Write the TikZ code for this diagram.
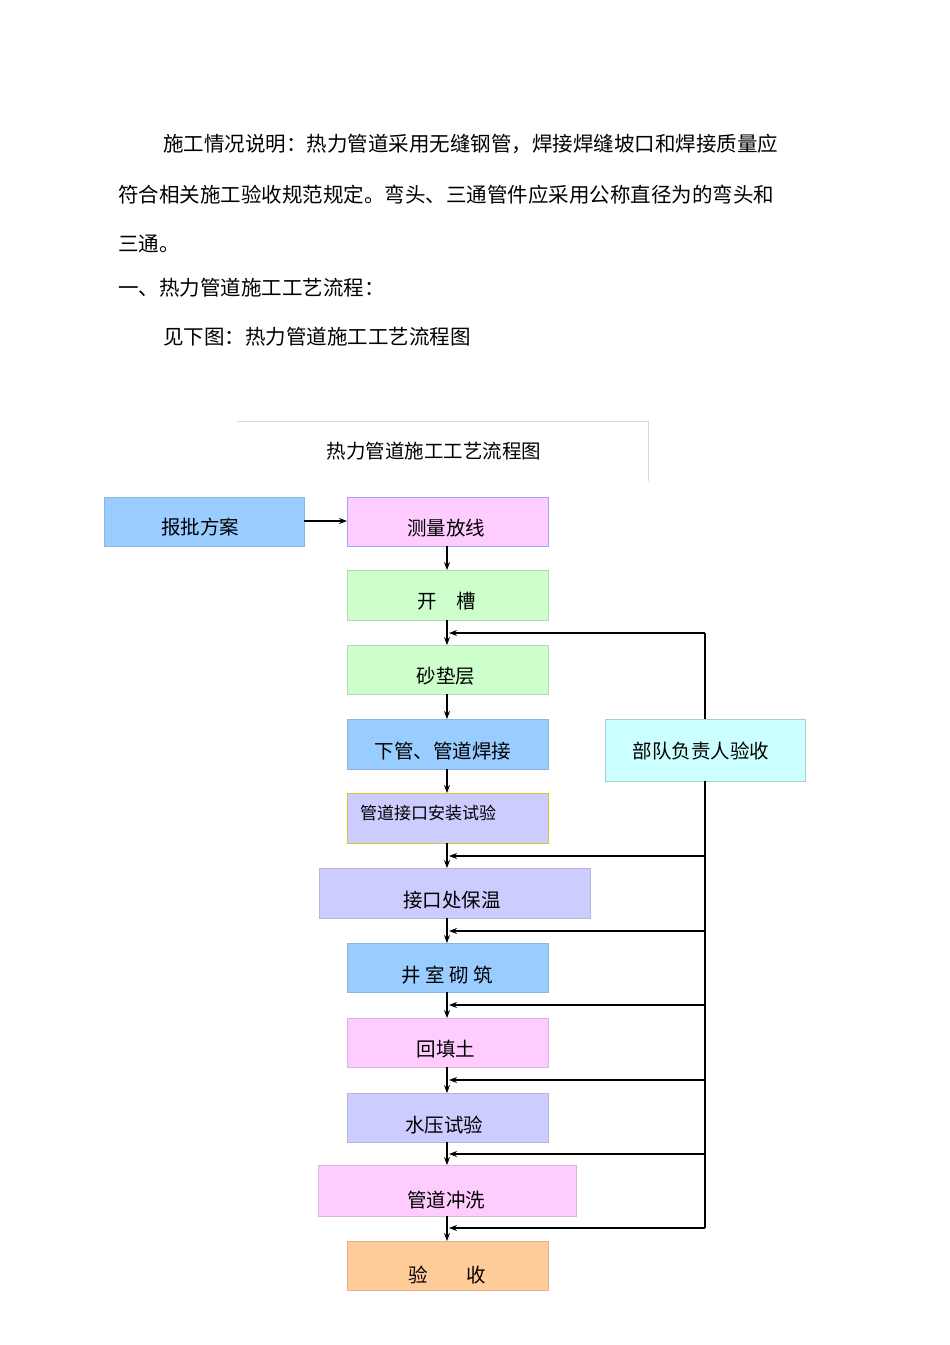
\documentclass[tikz,border=0pt]{standalone}
\usepackage{fontspec}
\setmainfont{Noto Sans CJK SC}
\usetikzlibrary{arrows.meta}
\definecolor{cblue}{HTML}{99CCFF}
\definecolor{cpink}{HTML}{FFCCFF}
\definecolor{cgreen}{HTML}{CCFFCC}
\definecolor{clav}{HTML}{CCCCFF}
\definecolor{corange}{HTML}{FFCC99}
\definecolor{ccyan}{HTML}{CCFFFF}
\begin{document}
\begin{tikzpicture}[x=1pt,y=-1pt,
  para/.style={anchor=base west,inner sep=0,font=\fontsize{20.5}{24}\selectfont},
  box/.style={draw=#1!70!gray,fill=#1,line width=0.6pt,inner sep=0},
  lbl/.style={font=\fontsize{19.5}{22}\selectfont,inner sep=0},
  arr/.style={-{Stealth[length=8pt,width=6pt]},line width=1.2pt},
  fb/.style={line width=1.2pt}]
\useasboundingbox (0,0) rectangle (950,1345);
\node[para] (p1) at (163,151) {施工情况说明：热力管道采用无缝钢管，焊接焊缝坡口和焊接质量应};
\node[para] (p2) at (118,202) {符合相关施工验收规范规定。弯头、三通管件应采用公称直径为的弯头和};
\node[para] (p3) at (118,251) {三通。};
\node[para] (p4) at (118,295) {一、热力管道施工工艺流程：};
\node[para] (p5) at (163,344) {见下图：热力管道施工工艺流程图};
% title box
\draw[gray!30] (237,421) -- (648,421) -- (648,481);
\node[lbl] (title) at (434,451) {热力管道施工工艺流程图};
% boxes
\newcommand{\bx}[6]{\filldraw[box=#5] (#1,#2) rectangle (#3,#4); \coordinate (#6) at ({(#1+#3)/2},#2);}
\filldraw[box=cblue] (104,497) rectangle (304,546); \node[lbl] (a) at (200,527) {报批方案};
\filldraw[box=cpink,draw=clav!80!blue] (347,497) rectangle (548,546); \node[lbl] (b) at (446,528) {测量放线};
\filldraw[box=cgreen] (347,570) rectangle (548,620); \node[lbl] (c) at (447,601) {开\quad 槽};
\filldraw[box=cgreen] (347,645) rectangle (548,694); \node[lbl] (d) at (446,676) {砂垫层};
\filldraw[box=cblue] (347,719) rectangle (548,769); \node[lbl] (e) at (443,751) {下管、管道焊接};
\filldraw[fill=clav,draw=yellow!80!black,line width=0.8pt] (347,793) rectangle (548,843); \node[lbl,anchor=west,font=\fontsize{17}{20}\selectfont] (f) at (360,813) {管道接口安装试验};
\filldraw[box=clav] (319,868) rectangle (590,918); \node[lbl] (g) at (452,900) {接口处保温};
\filldraw[box=cblue] (347,943) rectangle (548,992); \node[lbl] (h) at (447,975) {井\ 室\ 砌\ 筑};
\filldraw[box=cpink] (347,1018) rectangle (548,1067); \node[lbl] (i) at (446,1049) {回填土};
\filldraw[box=clav] (347,1093) rectangle (548,1142); \node[lbl] (j) at (444,1125) {水压试验};
\filldraw[box=cpink] (318,1165) rectangle (576,1216); \node[lbl] (k) at (446,1200) {管道冲洗};
\filldraw[box=corange] (347,1241) rectangle (548,1290); \node[lbl] (l) at (447,1275) {验\qquad 收};
\filldraw[box=ccyan,draw=ccyan!60!gray] (605,719) rectangle (805,781); \node[lbl] (m) at (701,751) {部队负责人验收};
% main arrows
\draw[arr] (304,521) -- (347,521);
\foreach \ya/\yb in {546/570,620/645,694/719,769/793,843/868,918/943,992/1018,1067/1093,1142/1165,1216/1241}
  \draw[arr] (447,\ya) -- (447,\yb);
% feedback
\draw[fb] (705,633) -- (705,719);
\draw[fb] (705,781) -- (705,1228);
\foreach \y in {633,856,931,1005,1080,1154,1228}
  \draw[arr] (705,\y) -- (449,\y);
\end{tikzpicture}
\end{document}
